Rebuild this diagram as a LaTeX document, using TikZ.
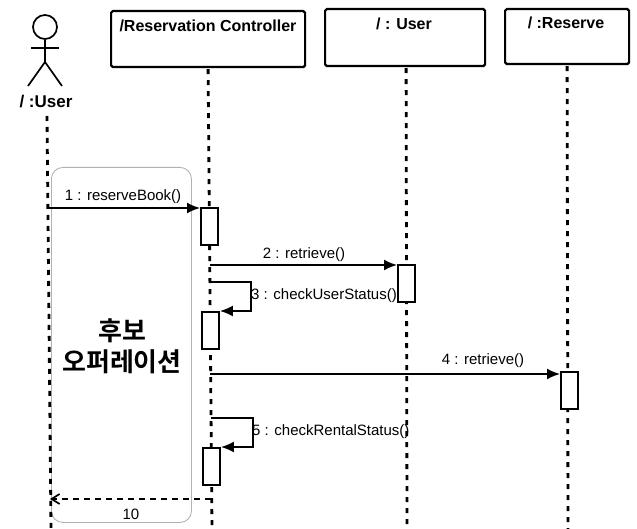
\documentclass[tikz,border=0pt]{standalone}
\usepackage{fontspec}
\setmainfont{Liberation Sans}
\newfontfamily\cjk{Noto Sans CJK KR}[BoldFont={Noto Sans CJK KR Bold}]
\usetikzlibrary{arrows.meta,calc,positioning}

\begin{document}
\begin{tikzpicture}[
  x=1pt,y=-1pt,
  obj/.style={draw,line width=2.2pt,rounded corners=0.6mm,anchor=north west,inner sep=0pt},
  title/.style={font=\bfseries\fontsize{16}{18}\selectfont,inner sep=0pt},
  bar/.style={draw,line width=1.9pt,fill=white,anchor=north west,inner sep=0pt,minimum width=17pt,minimum height=37pt},
  life/.style={line width=2.8pt,dash pattern=on 5pt off 6pt},
  arrow/.style={-{Latex[length=13pt,width=11pt]},line width=1.8pt},
  back/.style={-{Straight Barb[length=8pt,width=10pt]},line width=1.7pt,dash pattern=on 6pt off 5pt},
  msg/.style={inner sep=1pt,font=\fontsize{15}{17}\selectfont},
  stick/.style={line width=1.7pt}
]
\useasboundingbox (0,0) rectangle (637,529);
% frame behind everything
\node[draw=black!30,line width=0.9pt,rounded corners=4mm,anchor=north west,inner sep=0pt,minimum width=140pt,minimum height=355pt] (frame) at (51,167) {};
\node[font=\cjk\bfseries\fontsize{26}{31}\selectfont,align=center] (note) at (122,346) {후보\\오퍼레이션};
% actor
\node[draw,circle,stick,minimum size=24pt,inner sep=0pt] (head) at (45,27) {};
\coordinate (hip) at (45,62);
\coordinate (armL) at (31,48);
\coordinate (armR) at (59,48);
\coordinate (legL) at (28,86);
\coordinate (legR) at (62,86);
\draw[stick] (head) -- (hip);
\draw[stick] (armL) -- (armR);
\draw[stick] (legL) -- (hip) -- (legR);
\node[font=\bfseries\fontsize{17}{19}\selectfont,inner sep=1pt] (actor) at (46,102) {/ :User};
% objects
\node[obj,minimum width=194pt,minimum height=56pt] (ctrl) at (110,10) {};
\node[obj,minimum width=160pt,minimum height=57pt] (user) at (324,8) {};
\node[obj,minimum width=124pt,minimum height=55pt] (res) at (504,8) {};
\node[title] (ctrlT) at (208,26) {/Reservation Controller};
\node[title] (userT) at (404,24) {/ : User};
\node[title] (resT) at (566,23) {/ :Reserve};
% lifeline ends
\coordinate (a0) at (47,116);
\coordinate (a9) at (51,529);
\coordinate (c9) at (212,529);
\coordinate (u9) at (407,529);
\coordinate (r9) at (568,529);
\draw[life] (a0) -- (a9);
\draw[life] (ctrl.south) ++(0,1) -- (c9);
\draw[life] (user.south) ++(1,1) -- (u9);
\draw[life] (res.south) ++(0,1) -- (r9);
% activation bars
\node[bar] (b1) at (200,207) {};
\node[bar] (b2) at (397,264) {};
\node[bar] (b3) at (201,311) {};
\node[bar] (b4) at (560,371) {};
\node[bar] (b5) at (202,447) {};
% messages
\coordinate (m1) at (48,208);
\coordinate (m2) at (210,265);
\coordinate (m4) at (210,374);
\coordinate (m3) at (210,282);
\coordinate (m5) at (211,418);
\coordinate (m9) at (211,499);
\coordinate (m9e) at (50,499);
\draw[arrow] (m1) -- (b1.north west |- m1);
\draw[arrow] (m2) -- (b2.north west |- m2);
\draw[arrow] (m4) -- (b4.north west |- m4);
\draw[arrow] (m3) -- (251,282) |- (b3.north east);
\draw[arrow] (m5) -- (253,418) |- (b5.north east);
\draw[back] (m9) -- (m9e);
\node[msg] (l1) at (123,197) {1 : reserveBook()};
\node[msg] (l2) at (304,255) {2 : retrieve()};
\node[msg,anchor=west] (l3) at (250,296) {3 : checkUserStatus()};
\node[msg] (l4) at (483,361) {4 : retrieve()};
\node[msg,anchor=west] (l5) at (251,432) {5 : checkRentalStatus()};
\node[msg] (l9) at (131,514) {10};
\end{tikzpicture}
\end{document}
